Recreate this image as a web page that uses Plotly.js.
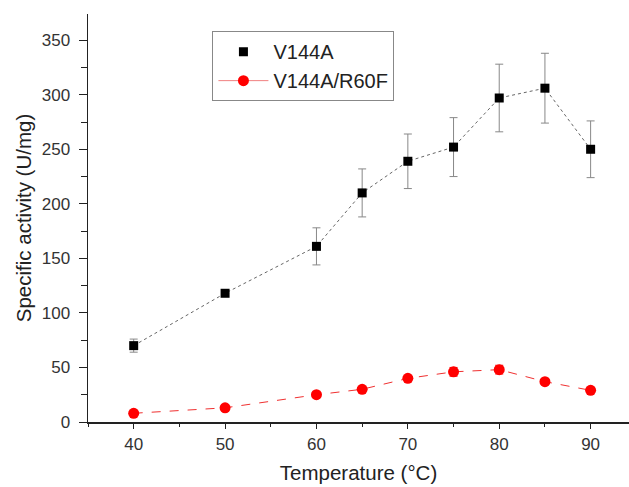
<!DOCTYPE html>
<html>
<head>
<meta charset="utf-8">
<script src="https://cdn.plot.ly/plotly-3.0.1.min.js"></script>
<style>html,body{margin:0;padding:0;background:#fff;}#chart{width:629px;height:487px;}</style>
</head>
<body>
<div id="chart"></div>
<script>
const temps = [40, 50, 60, 65, 70, 75, 80, 85, 90];
const v144a = [70, 118, 161, 210, 239, 252, 297, 306, 250];
const v144aErr = [6, 0, 17, 22, 25, 27, 31, 32, 26];
const r60f = [8, 13, 25, 30, 40, 46, 48, 37, 29];
const r60fErr = [0, 0, 0, 0, 0, 4, 4, 0, 0];
const seriesNames = ["V144A", "V144A/R60F"];
const xTicks = [40, 50, 60, 70, 80, 90];
const yTicks = [0, 50, 100, 150, 200, 250, 300, 350];

const font = "Liberation Sans, Arial, sans-serif";

const traces = [
  {
    x: temps, y: v144a, mode: "lines", showlegend: false, hoverinfo: "skip",
    line: {color: "#666", width: 1, dash: "dot"}
  },
  {
    x: temps, y: v144a, mode: "markers", name: seriesNames[0],
    marker: {symbol: "square", size: 9, color: "#000"},
    error_y: {type: "data", array: v144aErr, visible: true, color: "#888", thickness: 1, width: 4}
  },
  {
    x: temps, y: r60f, mode: "lines", showlegend: false, hoverinfo: "skip",
    line: {color: "#f03030", width: 1, dash: "dash"}
  },
  {
    x: temps, y: r60f, mode: "markers", name: seriesNames[1], showlegend: false,
    marker: {symbol: "circle", size: 11, color: "#ff0000"},
    error_y: {type: "data", array: r60fErr, visible: true, color: "#ff0000", thickness: 1, width: 4}
  },
  {
    // legend entry only (no data): solid light line with marker, as in the source legend
    x: [null], y: [null], mode: "lines+markers", name: seriesNames[1],
    line: {color: "#f08080", width: 1},
    marker: {symbol: "circle", size: 11, color: "#ff0000"}
  }
];

const layout = {
  width: 629, height: 487,
  margin: {l: 88, r: 0, t: 14, b: 65, pad: 0},
  paper_bgcolor: "#fff", plot_bgcolor: "#fff",
  font: {family: font, color: "#222", size: 17},
  showlegend: true,
  legend: {
    x: 0.23, y: 0.958, xanchor: "left", yanchor: "top",
    font: {family: font, size: 20, color: "#222"},
    bordercolor: "#888", borderwidth: 1, bgcolor: "rgba(255,255,255,0)",
    itemwidth: 50, tracegroupgap: 0
  },
  xaxis: {
    range: [35, 94.2],
    tickvals: xTicks, ticktext: xTicks.map(String),
    ticks: "outside", ticklen: 5, tickwidth: 1, tickcolor: "#222",
    minor: {dtick: 5, tick0: 35, ticks: "outside", ticklen: 3, tickcolor: "#222"},
    showline: true, linecolor: "#222", linewidth: 1.5,
    showgrid: false, zeroline: false,
    ticklabelstandoff: 1,
    tickfont: {family: font, size: 17, color: "#333"},
    title: {text: "Temperature (°C)", font: {family: font, size: 20.5, color: "#222"}, standoff: 12}
  },
  yaxis: {
    range: [0, 374],
    tickvals: yTicks, ticktext: yTicks.map(String),
    ticks: "outside", ticklen: 8, tickwidth: 1, tickcolor: "#222",
    minor: {dtick: 25, tick0: 0, ticks: "outside", ticklen: 6, tickcolor: "#222"},
    showline: true, linecolor: "#222", linewidth: 1.5,
    showgrid: false, zeroline: false,
    ticklabelstandoff: 5,
    tickfont: {family: font, size: 17, color: "#333"},
    title: {text: "Specific activity (U/mg)", font: {family: font, size: 20.5, color: "#222"}, standoff: 4}
  }
};

Plotly.newPlot("chart", traces, layout, {displayModeBar: false, staticPlot: true});
</script>
</body>
</html>
